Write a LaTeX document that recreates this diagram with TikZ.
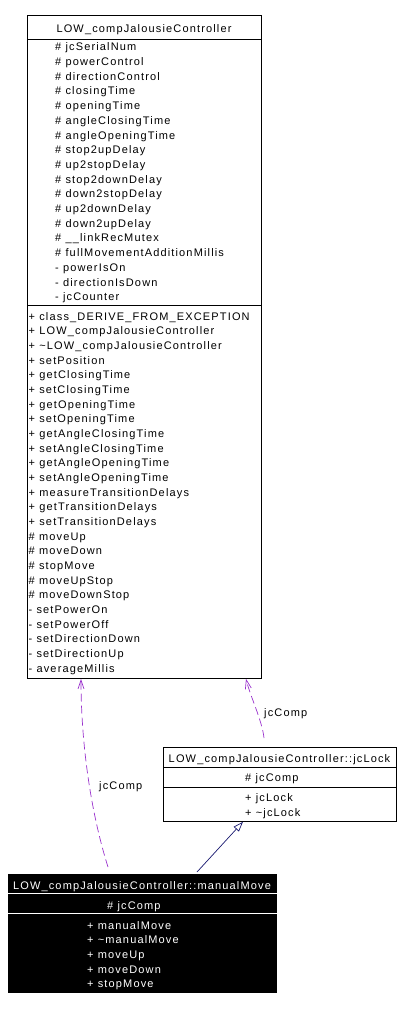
\documentclass[tikz,border=0pt]{standalone}
\usepackage{fontspec}
\setmainfont{Liberation Sans}[LetterSpace=10.5]
\usetikzlibrary{arrows.meta}
\definecolor{orchid}{HTML}{9A32CD}
\definecolor{navy}{HTML}{191970}
\tikzset{
  lbl/.style={inner sep=0pt,anchor=base west,font=\fontsize{11}{13}\selectfont},
  lblw/.style={lbl,text=white},
  ttl/.style={lbl,anchor=base},
  umlbox/.style={draw,line width=0.8pt,inner sep=0pt,anchor=north west},
  sep/.style={line width=0.8pt},
  uses/.style={orchid,line width=0.7pt,dash pattern=on 8pt off 4pt,-{Straight Barb[length=9pt,width=6pt]}},
  inherit/.style={navy,line width=0.7pt,-{Triangle[open,length=10pt,width=7pt]}}
}
\begin{document}
\begin{tikzpicture}[x=1pt,y=-1pt]
\useasboundingbox (0,0) rectangle (400,1009);
\node[umlbox,minimum width=234pt,minimum height=663pt] (ctrl) at (27,15) {};
\draw[sep] ([yshift=-24pt]ctrl.north west) -- ([yshift=-24pt]ctrl.north east);
\draw[sep] ([yshift=-290pt]ctrl.north west) -- ([yshift=-290pt]ctrl.north east);
\node[ttl] (ctrlname) at (144,32) {LOW\_compJalousieController};
\foreach \t [count=\i] in {\# jcSerialNum,\# powerControl,\# directionControl,\# closingTime,\# openingTime,\# angleClosingTime,\# angleOpeningTime,\# stop2upDelay,\# up2stopDelay,\# stop2downDelay,\# down2stopDelay,\# up2downDelay,\# down2upDelay,\# \_\_linkRecMutex,\# fullMovementAdditionMillis,- powerIsOn,- directionIsDown,- jcCounter}
  \node[lbl] (ca\i) at (55,{50.8+14.7*(\i-1)}) {\t};
\foreach \t [count=\i] in {+ class\_DERIVE\_FROM\_EXCEPTION,+ LOW\_compJalousieController,+ \textasciitilde LOW\_compJalousieController,+ setPosition,+ getClosingTime,+ setClosingTime,+ getOpeningTime,+ setOpeningTime,+ getAngleClosingTime,+ setAngleClosingTime,+ getAngleOpeningTime,+ setAngleOpeningTime,+ measureTransitionDelays,+ getTransitionDelays,+ setTransitionDelays,\# moveUp,\# moveDown,\# stopMove,\# moveUpStop,\# moveDownStop,- setPowerOn,- setPowerOff,- setDirectionDown,- setDirectionUp,- averageMillis}
  \node[lbl] (cm\i) at (28.5,{320+14.67*(\i-1)}) {\t};
\node[umlbox,minimum width=233pt,minimum height=74pt] (lock) at (163,747) {};
\draw[sep] ([yshift=-20pt]lock.north west) -- ([yshift=-20pt]lock.north east);
\draw[sep] ([yshift=-40pt]lock.north west) -- ([yshift=-40pt]lock.north east);
\node[ttl] (lockname) at (279.5,762) {LOW\_compJalousieController::jcLock};
\node[lbl] (lockattr) at (245,781.7) {\# jcComp};
\node[lbl] (lockm1) at (245,801.7) {+ jcLock};
\node[lbl] (lockm2) at (245,816.4) {+ \textasciitilde jcLock};
\node[umlbox,fill=black,minimum width=268pt,minimum height=118pt] (mm) at (8,874) {};
\draw[sep,white] ([yshift=-19pt]mm.north west) -- ([yshift=-19pt]mm.north east);
\draw[sep,white] ([yshift=-39pt]mm.north west) -- ([yshift=-39pt]mm.north east);
\node[ttl,text=white] (mmname) at (142,889) {LOW\_compJalousieController::manualMove};
\node[lblw] (mmattr) at (107,909) {\# jcComp};
\foreach \t [count=\i] in {+ manualMove,+ \textasciitilde manualMove,+ moveUp,+ moveDown,+ stopMove}
  \node[lblw] (mmm\i) at (87,{929+14.67*(\i-1)}) {\t};
\coordinate (ctrlA) at ([xshift=54pt]ctrl.south west);
\coordinate (ctrlB) at ([xshift=219pt]ctrl.south west);
\coordinate (lockUse) at ([xshift=101pt,yshift=9pt]lock.north west);
\coordinate (lockBase) at ([xshift=80pt]lock.south west);
\coordinate (mmUse) at ([xshift=100pt,yshift=7pt]mm.north west);
\coordinate (mmBase) at ([xshift=189pt,yshift=2pt]mm.north west);
\draw[uses] (mmUse) .. controls +(-18,-57) and +(0,62) .. (ctrlA);
\draw[uses] (lockUse) .. controls +(-2,-18) and +(4,17) .. (ctrlB);
\draw[inherit] (mmBase) -- (lockBase);
\node[lbl] (useA) at (99,789) {jcComp};
\node[lbl] (useB) at (264,716.7) {jcComp};
\end{tikzpicture}
\end{document}
